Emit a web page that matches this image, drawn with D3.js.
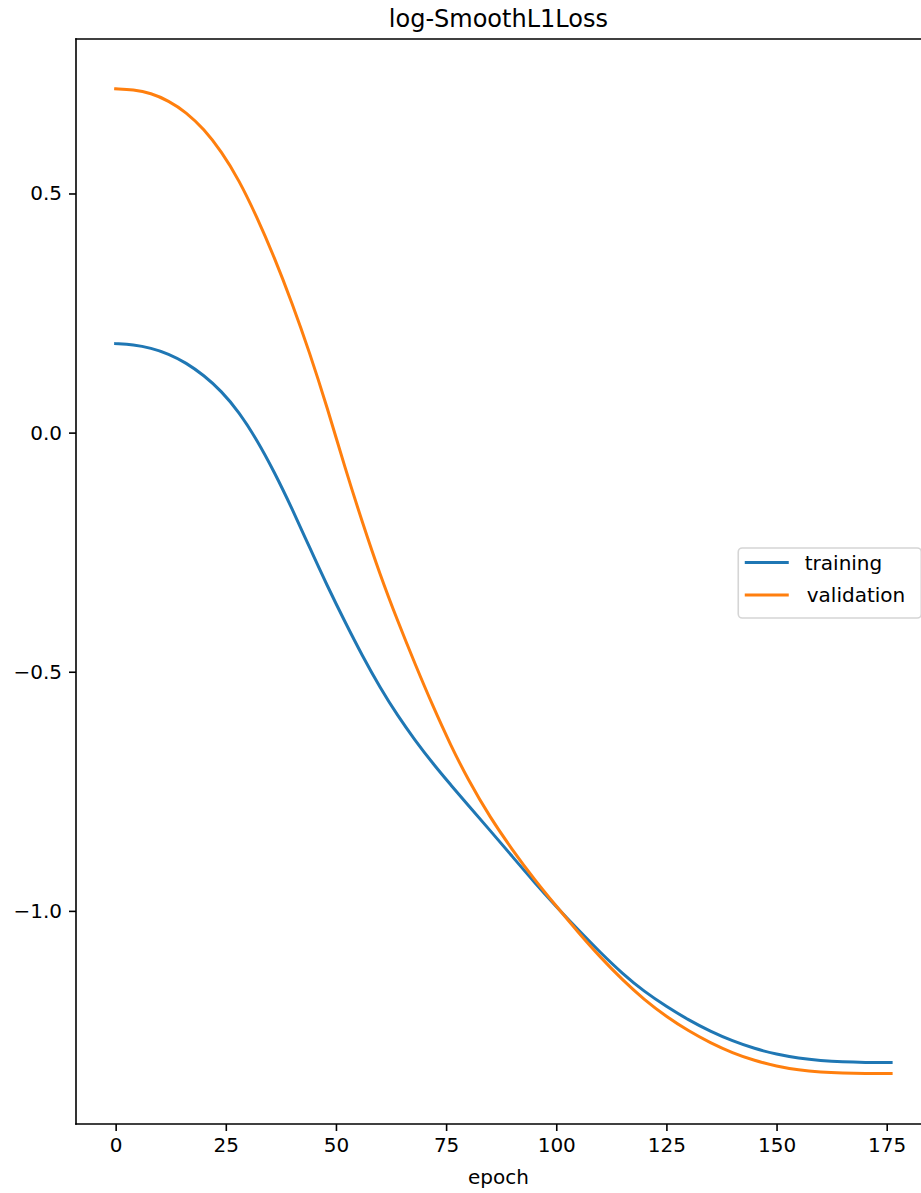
<!DOCTYPE html>
<html>
<head>
<meta charset="utf-8">
<script src="https://cdn.jsdelivr.net/npm/d3@7"></script>
<style>
  html, body { margin: 0; padding: 0; background: #fff; }
  svg { display: block; }
  text { font-family: "DejaVu Sans", sans-serif; fill: #000; }
</style>
</head>
<body>
<svg id="chart" width="921" height="1193"></svg>
<script>
// ---- data ----
const epochs = [0, 4, 8, 12, 16, 20, 24, 28, 32, 36, 40, 44, 48, 52, 56, 60, 64, 68, 72, 76, 80, 85, 90, 95, 100, 105, 110, 115, 120, 125, 130, 135, 140, 145, 150, 155, 160, 165, 170, 176];
const training = [0.186, 0.184, 0.177, 0.165, 0.146, 0.120, 0.087, 0.043, -0.014, -0.082, -0.158, -0.240, -0.320, -0.395, -0.467, -0.533, -0.592, -0.644, -0.692, -0.736, -0.779, -0.832, -0.886, -0.940, -0.991, -1.040, -1.087, -1.131, -1.169, -1.200, -1.228, -1.252, -1.272, -1.288, -1.300, -1.308, -1.313, -1.316, -1.317, -1.317];
const validation = [0.719, 0.717, 0.710, 0.694, 0.670, 0.635, 0.588, 0.528, 0.452, 0.367, 0.272, 0.168, 0.053, -0.072, -0.188, -0.297, -0.394, -0.485, -0.572, -0.653, -0.726, -0.805, -0.872, -0.934, -0.990, -1.045, -1.097, -1.144, -1.186, -1.221, -1.251, -1.276, -1.297, -1.313, -1.325, -1.333, -1.337, -1.339, -1.340, -1.340];
const xTicks = [0, 25, 50, 75, 100, 125, 150, 175];
const yTicks = [0.5, 0.0, -0.5, -1.0];
const seriesNames = ["training", "validation"];
const seriesColors = ["#1f77b4", "#ff7f0e"];
const chartTitle = "log-SmoothL1Loss";
const xLabel = "epoch";

// ---- layout ----
const mLeft = 76, mTop = 39, mBottom = 1124;
const pxPerEpoch = 4.406;
const xMin = -9, xMax = 185;
const mRight = mLeft + (xMax - xMin) * pxPerEpoch;

const svg = d3.select("#chart");
const x = d3.scaleLinear().domain([xMin, xMax]).range([mLeft, mRight]);
const y = d3.scaleLinear().domain([-1.4456, 0.823]).range([mBottom, mTop]);

// lines
const series = [training, validation];
const line = d3.line()
  .x(d => x(d[0]))
  .y(d => y(d[1]))
  .curve(d3.curveBasis);

series.forEach((vals, i) => {
  const pts = epochs.map((e, j) => [e, vals[j]]);
  svg.append("path")
    .attr("d", line(pts))
    .attr("fill", "none")
    .attr("stroke", seriesColors[i])
    .attr("stroke-width", 3)
    .attr("stroke-linecap", "square")
    .attr("stroke-linejoin", "round");
});

// axes
const fmtY = d => (d < 0 ? "\u2212" : "") + Math.abs(d).toFixed(1);
const xAxis = d3.axisBottom(x).tickValues(xTicks).tickSize(7).tickPadding(7).tickFormat(d3.format("d"));
const yAxis = d3.axisLeft(y).tickValues(yTicks).tickSize(7).tickPadding(7).tickFormat(fmtY);

const gx = svg.append("g").attr("transform", `translate(0,${mBottom})`).call(xAxis);
const gy = svg.append("g").attr("transform", `translate(${mLeft},0)`).call(yAxis);
[gx, gy].forEach(g => {
  g.select(".domain").remove();
  g.selectAll(".tick line").attr("stroke", "#000").attr("stroke-width", 1.6);
  g.selectAll(".tick text").style("font-family", "DejaVu Sans").style("font-size", "20px").attr("fill", "#000");
});

// spines
const spine = (x1, y1, x2, y2) => svg.append("line")
  .attr("x1", x1).attr("y1", y1).attr("x2", x2).attr("y2", y2)
  .attr("stroke", "#000").attr("stroke-width", 1.6).attr("stroke-linecap", "square");
spine(mLeft, mTop, mLeft, mBottom);
spine(mLeft, mTop, mRight, mTop);
spine(mLeft, mBottom, mRight, mBottom);
spine(mRight, mTop, mRight, mBottom);

// title
svg.append("text")
  .attr("x", (mLeft + mRight) / 2 - 5)
  .attr("y", mTop - 12)
  .attr("text-anchor", "middle")
  .style("font-size", "24px")
  .text(chartTitle);

// x label
svg.append("text")
  .attr("x", (mLeft + mRight) / 2 - 5)
  .attr("y", 1184)
  .attr("text-anchor", "middle")
  .style("font-size", "20px")
  .text(xLabel);

// legend
const lgRight = mRight - 10;
const lgW = 183, lgH = 70;
const lgX = lgRight - lgW, lgY = (mTop + mBottom) / 2 - lgH / 2 + 1;
const lg = svg.append("g").attr("transform", `translate(${lgX},${lgY})`);
lg.append("rect")
  .attr("x", 0.5).attr("y", 0.5)
  .attr("width", lgW).attr("height", lgH)
  .attr("rx", 4).attr("ry", 4)
  .attr("fill", "#fff").attr("fill-opacity", 0.8)
  .attr("stroke", "#d5d5d5").attr("stroke-width", 1.6);
seriesNames.forEach((name, i) => {
  const cy = 15 + i * 32.5;
  lg.append("line")
    .attr("x1", 7).attr("x2", 51)
    .attr("y1", cy).attr("y2", cy)
    .attr("stroke", seriesColors[i]).attr("stroke-width", 3);
  lg.append("text")
    .attr("x", 67 + i * 2)
    .attr("y", cy + 7)
    .style("font-size", "20px")
    .text(name);
});
</script>
</body>
</html>
